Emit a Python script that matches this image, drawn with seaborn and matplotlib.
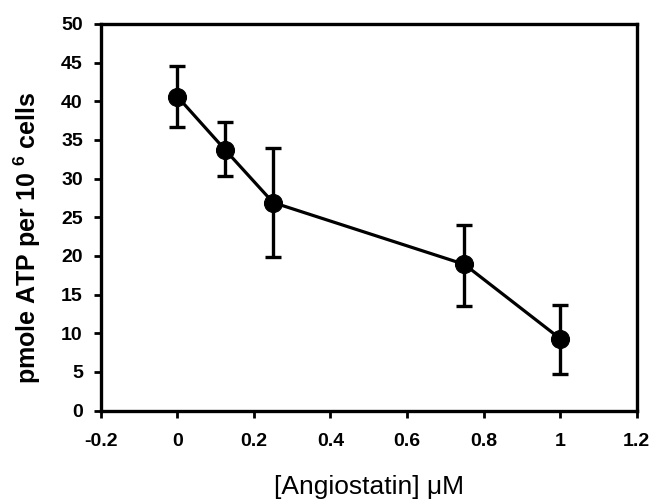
import matplotlib
matplotlib.use("Agg")
import matplotlib.pyplot as plt
import seaborn as sns
import pandas as pd

conc = [0.0, 0.125, 0.25, 0.75, 1.0]
atp = [40.6, 33.7, 26.9, 18.9, 9.3]
err_up = [3.9, 3.6, 7.0, 5.1, 4.4]
err_low = [3.9, 3.4, 7.0, 5.4, 4.6]
xticks = [-0.2, 0, 0.2, 0.4, 0.6, 0.8, 1, 1.2]
xticklabels = ["-0.2", "0", "0.2", "0.4", "0.6", "0.8", "1", "1.2"]
yticks = [0, 5, 10, 15, 20, 25, 30, 35, 40, 45, 50]

sns.set_style("ticks")
plt.rcParams['font.family'] = ['Liberation Sans', 'DejaVu Sans']
plt.rcParams['mathtext.fontset'] = 'custom'
plt.rcParams['mathtext.rm'] = 'Liberation Sans'
plt.rcParams['mathtext.bf'] = 'Liberation Sans:bold'
for k in ['text.color', 'axes.labelcolor', 'xtick.color', 'ytick.color']:
    plt.rcParams[k] = 'black'

df = pd.DataFrame({"conc": conc, "atp": atp})

fig = plt.figure(figsize=(6.55, 5.04), dpi=100)
ax = fig.add_axes([0.154, 0.1855, 0.818, 0.767])

ax.errorbar(conc, atp, yerr=[err_low, err_up], fmt="none", ecolor="black",
            elinewidth=2.4, capsize=6, capthick=2.4, zorder=2)
sns.lineplot(data=df, x="conc", y="atp", ax=ax, color="black", linewidth=2.3,
             marker="o", markersize=13, markeredgecolor="black",
             markerfacecolor="black", zorder=3)

ax.set_xlim(-0.2, 1.2)
ax.set_ylim(0, 50)
ax.set_xticks(xticks)
ax.set_xticklabels(xticklabels)
ax.set_yticks(yticks)
for spine in ax.spines.values():
    spine.set_visible(True)
    spine.set_linewidth(2.4)
    spine.set_color("black")
ax.tick_params(axis="both", direction="out", length=5, width=2, colors="black",
               labelsize=14)
ax.tick_params(axis="x", pad=11)
ax.tick_params(axis="y", pad=8)
for lab in ax.get_xticklabels() + ax.get_yticklabels():
    lab.set_fontweight("bold")

ax.set_xlabel("[Angiostatin] \u03bcM", fontsize=19)
ax.xaxis.set_label_coords(0.5, -0.168)
ax.set_ylabel("pmole ATP per 10 $^{\\mathbf{6}}$ cells", fontsize=18,
              fontweight="bold")
ax.yaxis.set_label_coords(-0.108, 0.4475)

fig.savefig("out.png", dpi=100)
